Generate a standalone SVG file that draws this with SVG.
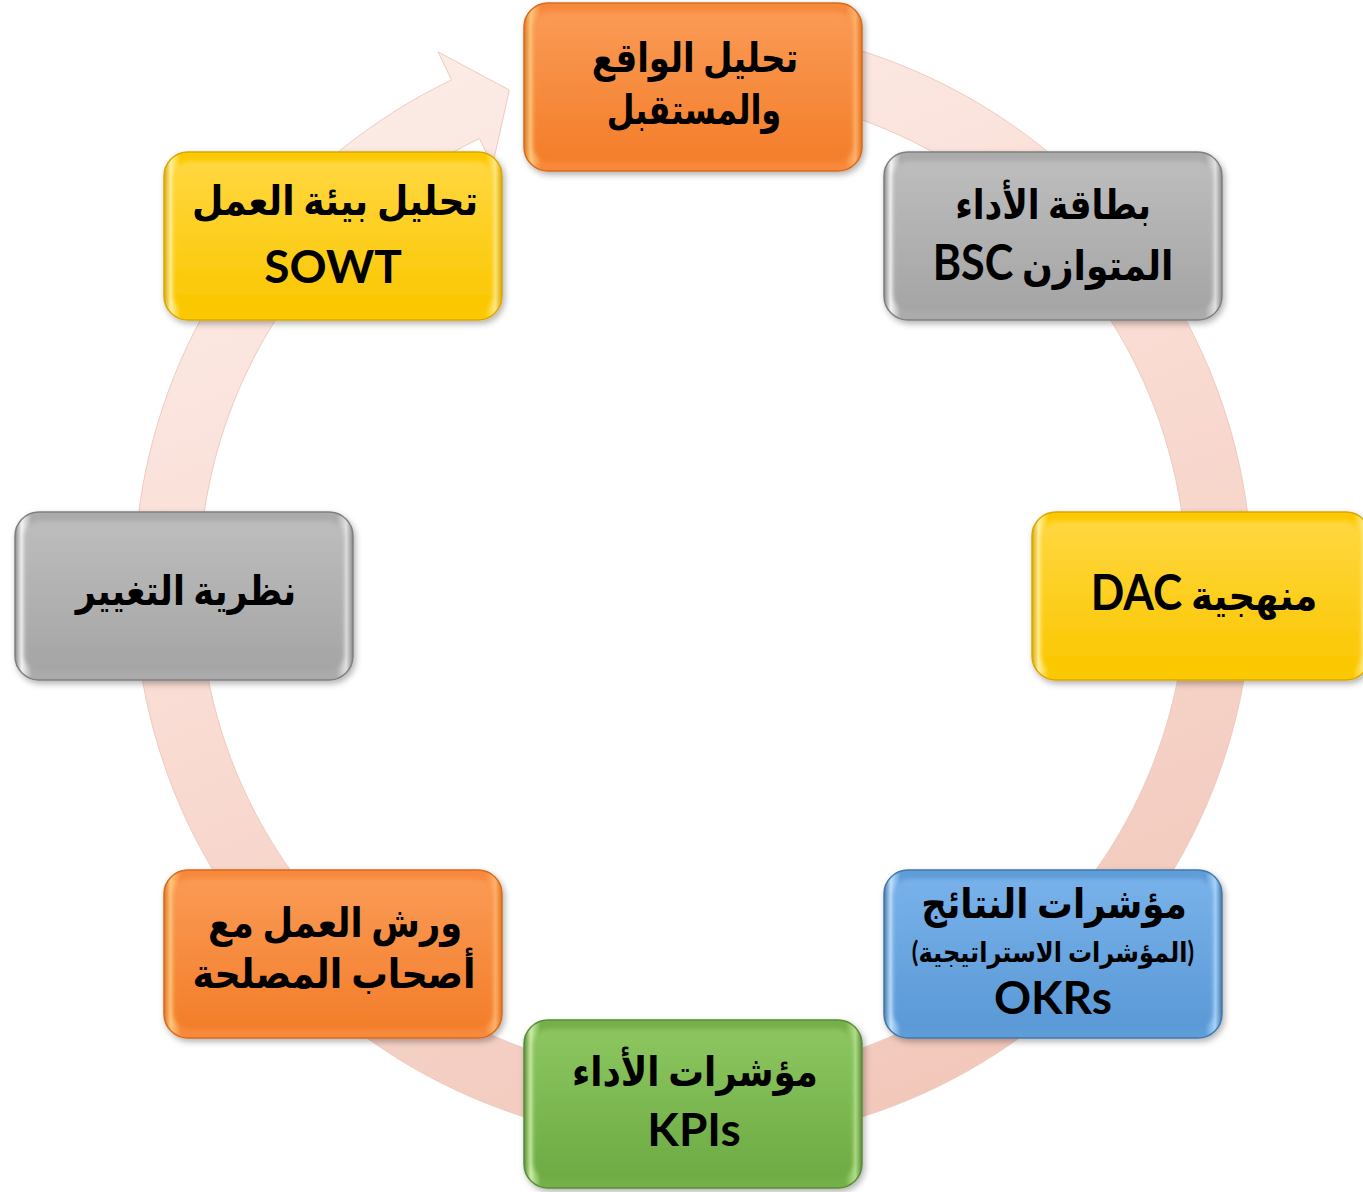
<svg xmlns="http://www.w3.org/2000/svg" width="1363" height="1192" viewBox="0 0 1363 1192">
  <style>
    .t { font-family: Lato, "DejaVu Sans", sans-serif; font-weight: bold; fill: #000; text-anchor: middle; }
    .ar { font-size: 41px; }
    .lt { font-size: 46px; }
    .lt2 { font-size: 49px; }
    .sm { font-size: 28px; }
    .face { filter: url(#soft); }
    .outer { stroke-width: 1.5; filter: url(#shadow); }
  </style>
  <defs>
    <filter id="shadow" x="-10%" y="-10%" width="120%" height="130%">
      <feDropShadow dx="2" dy="3" stdDeviation="3" flood-color="#000" flood-opacity="0.3"/>
    </filter>
    <filter id="soft" x="-5%" y="-5%" width="110%" height="110%">
      <feGaussianBlur stdDeviation="2"/>
    </filter>
    <linearGradient id="ringGrad" x1="0.2" y1="0" x2="0.6" y2="1">
      <stop offset="0" stop-color="#fcede8"/>
      <stop offset="0.5" stop-color="#f9dbd2"/>
      <stop offset="1" stop-color="#f2c8bb"/>
    </linearGradient>
    <!-- orange -->
    <linearGradient id="eO" x1="0" y1="0" x2="1" y2="0">
      <stop offset="0" stop-color="#e07420"/><stop offset="0.02" stop-color="#ffc77e"/><stop offset="0.05" stop-color="#f7893c"/>
      <stop offset="0.95" stop-color="#f7893c"/><stop offset="0.98" stop-color="#ffb06a"/><stop offset="1" stop-color="#e07420"/>
    </linearGradient>
    <linearGradient id="fO" x1="0" y1="0" x2="0" y2="1">
      <stop offset="0" stop-color="#fa9a55"/><stop offset="1" stop-color="#f37e2a"/>
    </linearGradient>
    <!-- gray -->
    <linearGradient id="eG" x1="0" y1="0" x2="1" y2="0">
      <stop offset="0" stop-color="#8a8a8a"/><stop offset="0.02" stop-color="#f4f4f4"/><stop offset="0.05" stop-color="#ababab"/>
      <stop offset="0.95" stop-color="#ababab"/><stop offset="0.98" stop-color="#e0e0e0"/><stop offset="1" stop-color="#8a8a8a"/>
    </linearGradient>
    <linearGradient id="fG" x1="0" y1="0" x2="0" y2="1">
      <stop offset="0" stop-color="#bdbdbd"/><stop offset="1" stop-color="#a5a5a5"/>
    </linearGradient>
    <!-- yellow -->
    <linearGradient id="eY" x1="0" y1="0" x2="1" y2="0">
      <stop offset="0" stop-color="#d9a800"/><stop offset="0.02" stop-color="#fff0a0"/><stop offset="0.05" stop-color="#fcc900"/>
      <stop offset="0.95" stop-color="#fcc900"/><stop offset="0.98" stop-color="#ffe680"/><stop offset="1" stop-color="#d9a800"/>
    </linearGradient>
    <linearGradient id="fY" x1="0" y1="0" x2="0" y2="1">
      <stop offset="0" stop-color="#ffd740"/><stop offset="1" stop-color="#fbc700"/>
    </linearGradient>
    <!-- blue -->
    <linearGradient id="eB" x1="0" y1="0" x2="1" y2="0">
      <stop offset="0" stop-color="#4378aa"/><stop offset="0.02" stop-color="#bfe0ff"/><stop offset="0.05" stop-color="#5e9dd8"/>
      <stop offset="0.95" stop-color="#5e9dd8"/><stop offset="0.98" stop-color="#a8d2fa"/><stop offset="1" stop-color="#4378aa"/>
    </linearGradient>
    <linearGradient id="fB" x1="0" y1="0" x2="0" y2="1">
      <stop offset="0" stop-color="#79b2ea"/><stop offset="1" stop-color="#5a99d6"/>
    </linearGradient>
    <!-- green -->
    <linearGradient id="eN" x1="0" y1="0" x2="1" y2="0">
      <stop offset="0" stop-color="#5a8c38"/><stop offset="0.02" stop-color="#c9eea4"/><stop offset="0.05" stop-color="#74b04a"/>
      <stop offset="0.95" stop-color="#74b04a"/><stop offset="0.98" stop-color="#b0de88"/><stop offset="1" stop-color="#5a8c38"/>
    </linearGradient>
    <linearGradient id="fN" x1="0" y1="0" x2="0" y2="1">
      <stop offset="0" stop-color="#8dc660"/><stop offset="1" stop-color="#6dab43"/>
    </linearGradient>
  </defs>

  <rect width="1363" height="1192" fill="#fff"/>

  <g id="connectors">
    <path id="cycle-arrow" d="M 770.8 30.4 A 559 559 0 1 1 451.5 79.9 L 438.1 51.9 L 509.3 90 L 492.5 165.6 L 479.5 138.5 A 494 494 0 1 0 761.8 94.8 Z" fill="url(#ringGrad)" stroke="#efcabe" stroke-width="1"/>
  </g>

  <g id="node-reality">
    <rect class="outer" x="524" y="3" width="338" height="168" rx="24" fill="url(#eO)" stroke="#d96a1a"/>
    <rect class="face" x="533" y="12" width="320" height="150" rx="17" fill="url(#fO)"/>
    <text class="t ar" direction="rtl" transform="translate(695 72) scale(0.83 1)">تحليل الواقع</text>
    <text class="t ar" direction="rtl" transform="translate(694 124) scale(0.78 1)">والمستقبل</text>
  </g>

  <g id="node-bsc">
    <rect class="outer" x="884" y="152" width="338" height="168" rx="24" fill="url(#eG)" stroke="#7f7f7f"/>
    <rect class="face" x="893" y="161" width="320" height="150" rx="17" fill="url(#fG)"/>
    <text class="t ar" direction="rtl" transform="translate(1053 219) scale(0.84 1)">بطاقة الأداء</text>
    <text class="t ar" direction="rtl" transform="translate(1053 280) scale(0.88 1)">المتوازن <tspan class="lt2">BSC</tspan></text>
  </g>

  <g id="node-dac">
    <rect class="outer" x="1032" y="512" width="338" height="168" rx="24" fill="url(#eY)" stroke="#d9a800"/>
    <rect class="face" x="1041" y="521" width="320" height="150" rx="17" fill="url(#fY)"/>
    <text class="t ar" direction="rtl" transform="translate(1204 610) scale(0.9 1)">منهجية <tspan class="lt2">DAC</tspan></text>
  </g>

  <g id="node-okrs">
    <rect class="outer" x="884" y="870" width="338" height="168" rx="24" fill="url(#eB)" stroke="#4378aa"/>
    <rect class="face" x="893" y="879" width="320" height="150" rx="17" fill="url(#fB)"/>
    <text class="t ar" direction="rtl" transform="translate(1054 918) scale(0.87 1)">مؤشرات النتائج</text>
    <text class="t sm" direction="rtl" transform="translate(1053 962) scale(0.86 1)">(المؤشرات الاستراتيجية)</text>
    <text class="t lt" x="1053" y="1014">OKRs</text>
  </g>

  <g id="node-kpis">
    <rect class="outer" x="524" y="1020" width="338" height="168" rx="24" fill="url(#eN)" stroke="#5a8c38"/>
    <rect class="face" x="533" y="1029" width="320" height="150" rx="17" fill="url(#fN)"/>
    <text class="t ar" direction="rtl" transform="translate(695 1086) scale(0.87 1)">مؤشرات الأداء</text>
    <text class="t lt" x="694" y="1146">KPIs</text>
  </g>

  <g id="node-workshops">
    <rect class="outer" x="164" y="870" width="338" height="168" rx="24" fill="url(#eO)" stroke="#d96a1a"/>
    <rect class="face" x="173" y="879" width="320" height="150" rx="17" fill="url(#fO)"/>
    <text class="t ar" direction="rtl" transform="translate(335 937) scale(0.86 1)">ورش العمل مع</text>
    <text class="t ar" direction="rtl" transform="translate(334 988) scale(0.89 1)">أصحاب المصلحة</text>
  </g>

  <g id="node-change">
    <rect class="outer" x="15" y="512" width="338" height="168" rx="24" fill="url(#eG)" stroke="#7f7f7f"/>
    <rect class="face" x="24" y="521" width="320" height="150" rx="17" fill="url(#fG)"/>
    <text class="t ar" direction="rtl" transform="translate(186 605) scale(0.85 1)">نظرية التغيير</text>
  </g>

  <g id="node-sowt">
    <rect class="outer" x="164" y="152" width="338" height="168" rx="24" fill="url(#eY)" stroke="#d9a800"/>
    <rect class="face" x="173" y="161" width="320" height="150" rx="17" fill="url(#fY)"/>
    <text class="t ar" direction="rtl" transform="translate(335 215) scale(0.88 1)">تحليل بيئة العمل</text>
    <text class="t lt" x="333" y="283">SOWT</text>
  </g>
</svg>
